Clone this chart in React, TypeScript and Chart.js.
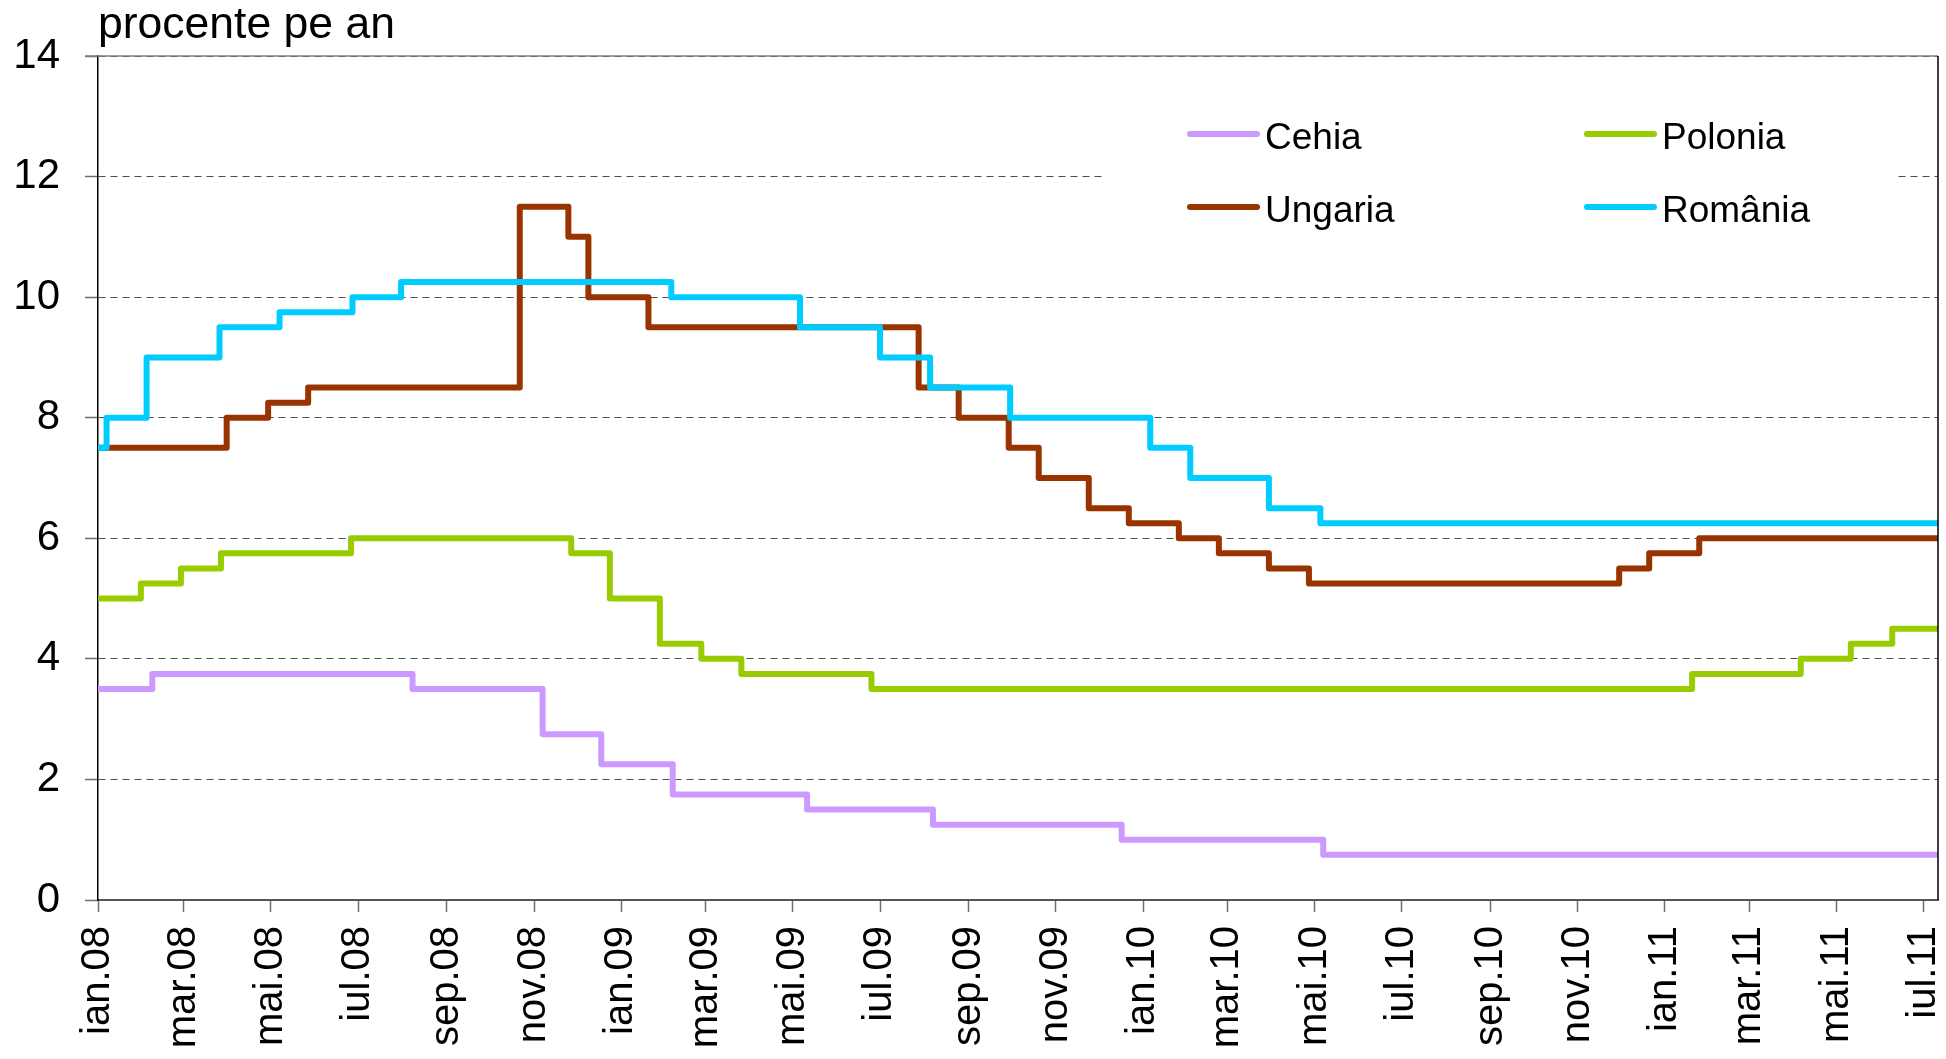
import React, { useEffect, useRef } from 'react';
import { Chart, registerables } from 'chart.js';

Chart.register(...registerables);

const FONT = '"Liberation Sans", Arial, Helvetica, sans-serif';

const START_DATE = '2008-01-01';
const END_DATE = '2011-07-11';

const seriesLabels = ['Cehia', 'Polonia', 'Ungaria', 'România'];
const seriesColors = ['#CC99FF', '#99CC00', '#993300', '#00CCFF'];

// Policy-rate change dates and the new rate (percent per year)
const cehiaDates = ['2008-01-01', '2008-02-08', '2008-08-08', '2008-11-07', '2008-12-18', '2009-02-06', '2009-05-11', '2009-08-07', '2009-12-17', '2010-05-07'];
const cehiaRates = [3.5, 3.75, 3.5, 2.75, 2.25, 1.75, 1.5, 1.25, 1.0, 0.75];

const poloniaDates = ['2008-01-01', '2008-01-31', '2008-02-28', '2008-03-27', '2008-06-26', '2008-11-27', '2008-12-24', '2009-01-28', '2009-02-26', '2009-03-26', '2009-06-25', '2011-01-20', '2011-04-06', '2011-05-11', '2011-06-09'];
const poloniaRates = [5.0, 5.25, 5.5, 5.75, 6.0, 5.75, 5.0, 4.25, 4.0, 3.75, 3.5, 3.75, 4.0, 4.25, 4.5];

const ungariaDates = ['2008-01-01', '2008-03-31', '2008-04-29', '2008-05-27', '2008-10-22', '2008-11-25', '2008-12-09', '2009-01-20', '2009-07-28', '2009-08-25', '2009-09-29', '2009-10-20', '2009-11-24', '2009-12-22', '2010-01-26', '2010-02-23', '2010-03-30', '2010-04-27', '2010-11-30', '2010-12-21', '2011-01-25'];
const ungariaRates = [7.5, 8.0, 8.25, 8.5, 11.5, 11.0, 10.0, 9.5, 8.5, 8.0, 7.5, 7.0, 6.5, 6.25, 6.0, 5.75, 5.5, 5.25, 5.5, 5.75, 6.0];

const romaniaDates = ['2008-01-01', '2008-01-07', '2008-02-04', '2008-03-26', '2008-05-07', '2008-06-27', '2008-07-31', '2009-02-05', '2009-05-06', '2009-07-01', '2009-08-05', '2009-09-30', '2010-01-06', '2010-02-03', '2010-03-30', '2010-05-05'];
const romaniaRates = [7.5, 8.0, 9.0, 9.5, 9.75, 10.0, 10.25, 10.0, 9.5, 9.0, 8.5, 8.0, 7.5, 7.0, 6.5, 6.25];

const tickDates = ['2008-01-01', '2008-03-01', '2008-05-01', '2008-07-01', '2008-09-01', '2008-11-01', '2009-01-01', '2009-03-01', '2009-05-01', '2009-07-01', '2009-09-01', '2009-11-01', '2010-01-01', '2010-03-01', '2010-05-01', '2010-07-01', '2010-09-01', '2010-11-01', '2011-01-01', '2011-03-01', '2011-05-01', '2011-07-01'];
const tickLabels = ['ian.08', 'mar.08', 'mai.08', 'iul.08', 'sep.08', 'nov.08', 'ian.09', 'mar.09', 'mai.09', 'iul.09', 'sep.09', 'nov.09', 'ian.10', 'mar.10', 'mai.10', 'iul.10', 'sep.10', 'nov.10', 'ian.11', 'mar.11', 'mai.11', 'iul.11'];

const Y_MIN = 0;
const Y_MAX = 14;
const Y_STEP = 2;
const TITLE = 'procente pe an';

function dayIndex(d: string): number {
  const [y, m, dd] = d.split('-').map(Number);
  const [y0, m0, d0] = START_DATE.split('-').map(Number);
  return Math.round((Date.UTC(y, m - 1, dd) - Date.UTC(y0, m0 - 1, d0)) / 86400000);
}

function toPoints(dates: string[], rates: number[]) {
  const pts = dates.map((d, i) => ({ x: dayIndex(d), y: rates[i] }));
  pts.push({ x: dayIndex(END_DATE), y: rates[rates.length - 1] });
  return pts;
}

const overlayPlugin = {
  id: 'overlay',
  afterDraw(chart: any) {
    const ctx = chart.ctx as CanvasRenderingContext2D;
    const a = chart.chartArea;
    ctx.save();
    // frame: top and right
    ctx.strokeStyle = '#7f7f7f';
    ctx.lineWidth = 1.5;
    ctx.beginPath();
    ctx.moveTo(a.left - 13, a.top);
    ctx.lineTo(a.right, a.top);
    ctx.stroke();
    ctx.strokeStyle = '#000';
    ctx.lineWidth = 1.5;
    ctx.beginPath();
    ctx.moveTo(a.right, a.top);
    ctx.lineTo(a.right, a.bottom);
    ctx.stroke();

    // title
    ctx.fillStyle = '#000';
    ctx.font = `44.5px ${FONT}`;
    ctx.textAlign = 'left';
    ctx.textBaseline = 'alphabetic';
    ctx.fillText(TITLE, 98, 38);

    // legend
    ctx.fillStyle = '#fff';
    ctx.fillRect(1102, 92, 793, 160);
    const cols = [1190, 1587];
    const rows = [134, 207];
    ctx.font = `37px ${FONT}`;
    chart.data.datasets.forEach((ds: any, i: number) => {
      const cx = cols[i % 2];
      const cy = rows[Math.floor(i / 2)];
      ctx.strokeStyle = ds.borderColor;
      ctx.lineWidth = 6;
      ctx.lineCap = 'round';
      ctx.beginPath();
      ctx.moveTo(cx, cy);
      ctx.lineTo(cx + 67, cy);
      ctx.stroke();
      ctx.fillStyle = '#000';
      ctx.fillText(ds.label, cx + 75, cy + 15);
    });
    ctx.restore();
  },
};

export default function App() {
  const canvasRef = useRef<HTMLCanvasElement | null>(null);

  useEffect(() => {
    if (!canvasRef.current) return;
    const allDates = [cehiaDates, poloniaDates, ungariaDates, romaniaDates];
    const allRates = [cehiaRates, poloniaRates, ungariaRates, romaniaRates];
    const datasets = seriesLabels.map((label, i) => ({
      label,
      data: toPoints(allDates[i], allRates[i]),
      borderColor: seriesColors[i],
      backgroundColor: seriesColors[i],
      borderWidth: 6,
      stepped: true,
      pointRadius: 0,
      pointHoverRadius: 0,
      borderJoinStyle: 'round' as const,
      borderCapStyle: 'round' as const,
      fill: false,
      order: 4 - i,
    }));

    const chart = new Chart(canvasRef.current, {
      type: 'line',
      data: { datasets },
      options: {
        animation: false,
        responsive: true,
        maintainAspectRatio: false,
        devicePixelRatio: 1,
        layout: { padding: { top: 56, right: 8, left: 0, bottom: 0 } },
        plugins: {
          legend: { display: false },
          title: { display: false },
          tooltip: { enabled: false },
        },
        scales: {
          x: {
            type: 'linear',
            min: 0,
            max: dayIndex(END_DATE),
            afterFit: (scale: any) => {
              scale.height = 159;
              scale.paddingLeft = 0;
              scale.paddingRight = 0;
            },
            afterBuildTicks: (scale: any) => {
              scale.ticks = tickDates.map((d) => ({ value: dayIndex(d) }));
            },
            ticks: {
              autoSkip: false,
              minRotation: 90,
              maxRotation: 90,
              padding: 14,
              color: '#000',
              font: { family: FONT, size: 40 },
              callback: (_v: any, index: number) => tickLabels[index],
            },
            grid: {
              drawOnChartArea: false,
              drawTicks: true,
              tickLength: 12,
              tickColor: '#6f6f6f',
              tickWidth: 1.5,
            },
            border: { display: true, color: '#555', width: 2 },
          },
          y: {
            type: 'linear',
            min: Y_MIN,
            max: Y_MAX,
            afterFit: (scale: any) => {
              scale.width = 98;
              scale.paddingTop = 0;
              scale.paddingBottom = 0;
            },
            ticks: {
              stepSize: Y_STEP,
              padding: 25,
              color: '#000',
              font: { family: FONT, size: 42 },
            },
            grid: {
              color: '#4d4d4d',
              lineWidth: 1,
              tickLength: 13,
              tickColor: '#6f6f6f',
              tickWidth: 1.5,
              tickBorderDash: [],
            },
            border: { display: true, color: '#000', width: 1.5, dash: [7, 5] },
          },
        },
      },
      plugins: [overlayPlugin],
    });
    return () => chart.destroy();
  }, []);

  return (
    <div style={{ position: 'absolute', left: 0, top: 0, width: 1946, height: 1059, background: '#fff' }}>
      <canvas ref={canvasRef} />
    </div>
  );
}
